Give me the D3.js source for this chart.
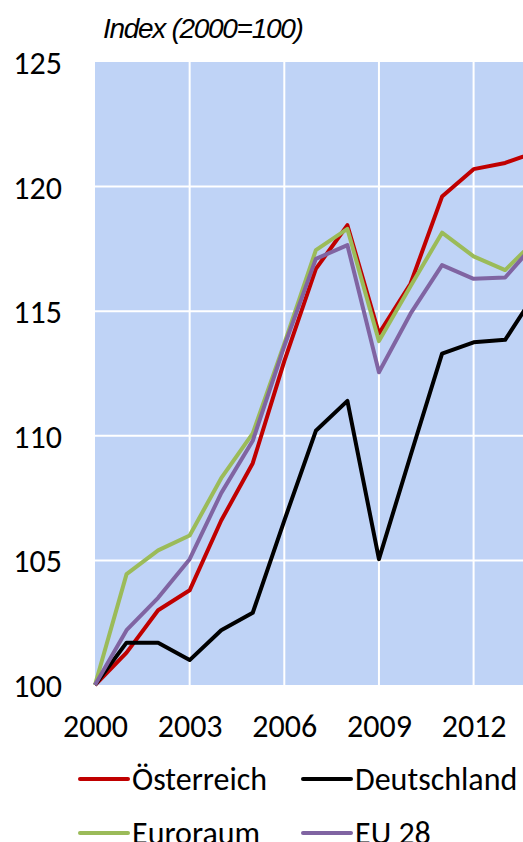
<!DOCTYPE html>
<html>
<head>
<meta charset="utf-8">
<script src="https://cdn.jsdelivr.net/npm/d3@7/dist/d3.min.js"></script>
<style>
  body { margin: 0; background: #fff; }
  svg { display: block; }
</style>
</head>
<body>
<div id="chart"></div>
<script>
// data
const years = [2000, 2001, 2002, 2003, 2004, 2005, 2006, 2007, 2008, 2009, 2010, 2011, 2012, 2013, 2014];
const oesterreich = [100, 101.3, 103.0, 103.8, 106.6, 108.9, 113.0, 116.7, 118.45, 114.1, 116.1, 119.6, 120.7, 120.95, 121.4];
const deutschland = [100, 101.7, 101.7, 101.0, 102.2, 102.9, 106.6, 110.2, 111.4, 105.05, 109.2, 113.3, 113.75, 113.85, 115.8];
const euroraum = [100, 104.45, 105.4, 106.0, 108.3, 110.1, 113.7, 117.45, 118.3, 113.8, 116.0, 118.15, 117.2, 116.65, 117.9];
const eu28 = [100, 102.2, 103.5, 105.05, 107.7, 109.8, 113.6, 117.1, 117.65, 112.55, 114.9, 116.85, 116.3, 116.35, 117.8];

const seriesNames = ['Österreich', 'Deutschland', 'Euroraum', 'EU 28'];
const seriesColors = ['#C00000', '#000000', '#9BBB59', '#8064A2'];
const yTicks = [100, 105, 110, 115, 120, 125];
const xTicks = [2000, 2003, 2006, 2009, 2012];

const width = 523;
const height = 842;
const tickFont = 'Carlito, Calibri, Lato, sans-serif';

const svg = d3.select('#chart')
  .append('svg')
  .attr('width', width)
  .attr('height', height);

const x = d3.scaleLinear().domain([2000, 2015]).range([95, 95 + 15 * 31.55]);
const y = d3.scaleLinear().domain([100, 125]).range([685, 62]);

// plot background
svg.append('rect')
  .attr('x', x(2000))
  .attr('y', y(125))
  .attr('width', x(2015) - x(2000))
  .attr('height', y(100) - y(125))
  .attr('fill', '#BFD3F6');

// grid
svg.append('g')
  .selectAll('line')
  .data(yTicks.filter((d) => d > 100 && d < 125))
  .enter()
  .append('line')
  .attr('x1', x(2000))
  .attr('x2', x(2015))
  .attr('y1', (d) => y(d))
  .attr('y2', (d) => y(d))
  .attr('stroke', '#fff')
  .attr('stroke-width', 2);

svg.append('g')
  .selectAll('line')
  .data(xTicks.filter((d) => d > 2000))
  .enter()
  .append('line')
  .attr('x1', (d) => x(d))
  .attr('x2', (d) => x(d))
  .attr('y1', y(125))
  .attr('y2', y(100))
  .attr('stroke', '#fff')
  .attr('stroke-width', 2);

// y axis labels
const yAxis = d3.axisLeft(y).tickValues(yTicks).tickSize(0).tickPadding(0);
const gy = svg.append('g')
  .attr('transform', 'translate(62,0)')
  .call(yAxis);
gy.select('.domain').remove();
gy.selectAll('text')
  .attr('fill', '#000')
  .attr('dy', '0.36em')
  .style('font-family', tickFont)
  .style('font-size', '32px');

// x axis labels
const xAxis = d3.axisBottom(x).tickValues(xTicks).tickSize(0).tickPadding(0).tickFormat(d3.format('d'));
const gx = svg.append('g')
  .attr('transform', 'translate(0,737)')
  .call(xAxis);
gx.select('.domain').remove();
gx.selectAll('text')
  .attr('fill', '#000')
  .attr('y', 0)
  .attr('dy', 0)
  .style('font-family', tickFont)
  .style('font-size', '32px');

// lines
const allSeries = [oesterreich, deutschland, euroraum, eu28];
const line = d3.line()
  .x((d, i) => x(years[i]))
  .y((d) => y(d));

svg.append('g')
  .selectAll('path')
  .data(allSeries)
  .enter()
  .append('path')
  .attr('d', (d) => line(d))
  .attr('fill', 'none')
  .attr('stroke', (d, i) => seriesColors[i])
  .attr('stroke-width', 4)
  .attr('stroke-linejoin', 'round');

// unit label
svg.append('text')
  .attr('x', 103)
  .attr('y', 38)
  .style('font-family', '"Liberation Sans Narrow", "Arial Narrow", sans-serif')
  .style('font-style', 'italic')
  .style('font-size', '28px')
  .style('letter-spacing', '-1.3px')
  .text('Index (2000=100)');

// legend
const legendPos = [[80, 779], [303, 779], [80, 833], [303, 833]];
const legend = svg.append('g')
  .selectAll('g')
  .data(seriesNames)
  .enter()
  .append('g')
  .attr('transform', (d, i) => `translate(${legendPos[i][0]},${legendPos[i][1]})`);

legend.append('line')
  .attr('x1', 0)
  .attr('x2', 48)
  .attr('stroke', (d, i) => seriesColors[i])
  .attr('stroke-width', 4)
  .attr('stroke-linecap', 'round');

legend.append('text')
  .attr('x', 52)
  .attr('dy', '0.33em')
  .style('font-family', tickFont)
  .style('font-size', '32px')
  .text((d) => d);
</script>
</body>
</html>
